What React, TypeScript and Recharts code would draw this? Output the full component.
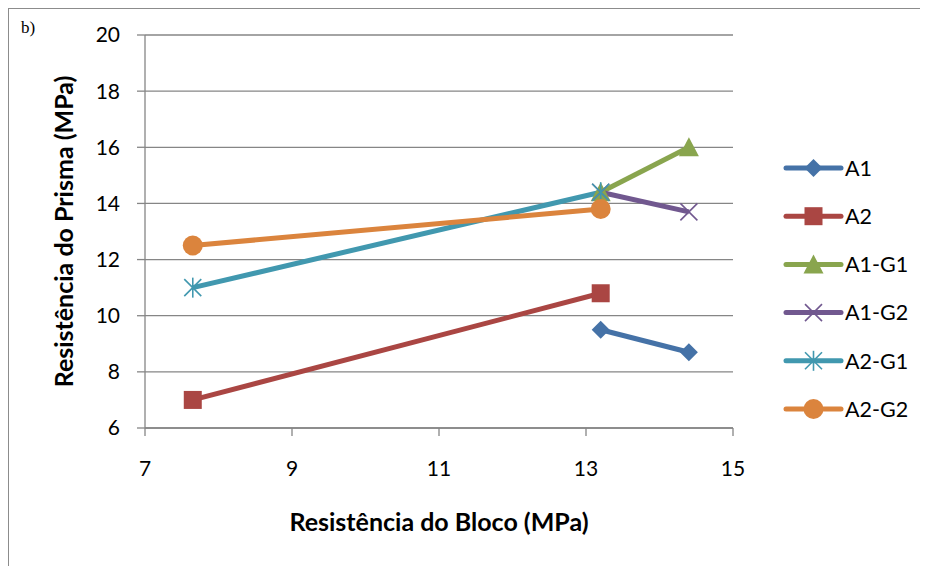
import { ComposedChart, Line, XAxis, YAxis, CartesianGrid } from 'recharts';

// Resistência do Bloco (MPa) for each series
const blocoA1 = [13.2, 14.4];
const blocoA2 = [7.65, 13.2];

// Resistência do Prisma (MPa)
const prismaA1 = [9.5, 8.7];
const prismaA2 = [7.0, 10.8];
const prismaA1G1 = [14.4, 16.0];
const prismaA1G2 = [14.4, 13.7];
const prismaA2G1 = [11.0, 14.4];
const prismaA2G2 = [12.5, 13.8];

const seriesNames = ['A1', 'A2', 'A1-G1', 'A1-G2', 'A2-G1', 'A2-G2'];
const seriesColors = ['#4572A7', '#AA4643', '#89A54E', '#71588F', '#4198AF', '#DB843D'];
const seriesShapes = ['diamond', 'square', 'triangle', 'cross', 'star', 'circle'];

const xTicks = [7, 9, 11, 13, 15];
const yTicks = [6, 8, 10, 12, 14, 16, 18, 20];

const toPoints = (xs: number[], ys: number[]) => xs.map((x, i) => ({ x, y: ys[i] }));

const series = [
  toPoints(blocoA1, prismaA1),
  toPoints(blocoA2, prismaA2),
  toPoints(blocoA1, prismaA1G1),
  toPoints(blocoA1, prismaA1G2),
  toPoints(blocoA2, prismaA2G1),
  toPoints(blocoA2, prismaA2G2),
];

const FONT = 'Lato, "Open Sans", sans-serif';
const AXIS_GREY = '#868686';

const Marker = ({ shape, cx, cy, color }: { shape: string; cx: number; cy: number; color: string }) => {
  if (cx == null || cy == null) return null;
  switch (shape) {
    case 'diamond':
      return <polygon points={`${cx},${cy - 9} ${cx + 9},${cy} ${cx},${cy + 9} ${cx - 9},${cy}`} fill={color} />;
    case 'square':
      return <rect x={cx - 9} y={cy - 9} width={18} height={18} fill={color} />;
    case 'triangle':
      return <polygon points={`${cx},${cy - 10} ${cx + 10},${cy + 9} ${cx - 10},${cy + 9}`} fill={color} />;
    case 'cross':
      return (
        <g stroke={color} strokeWidth={1.6}>
          <line x1={cx - 8.5} y1={cy - 8.5} x2={cx + 8.5} y2={cy + 8.5} />
          <line x1={cx - 8.5} y1={cy + 8.5} x2={cx + 8.5} y2={cy - 8.5} />
        </g>
      );
    case 'star':
      return (
        <g stroke={color} strokeWidth={1.6}>
          <line x1={cx - 8.5} y1={cy - 8.5} x2={cx + 8.5} y2={cy + 8.5} />
          <line x1={cx - 8.5} y1={cy + 8.5} x2={cx + 8.5} y2={cy - 8.5} />
          <line x1={cx} y1={cy - 10} x2={cx} y2={cy + 10} />
        </g>
      );
    default:
      return <circle cx={cx} cy={cy} r={10} fill={color} />;
  }
};

const LegendBox = () => (
  <svg width={156} height={285} style={{ position: 'absolute', left: 770, top: 144 }}>
    {seriesNames.map((name, i) => {
      const cy = 15 + i * 48.2;
      return (
        <g key={name}>
          <line x1={7} y1={cy} x2={62} y2={cy} stroke={seriesColors[i]} strokeWidth={5} strokeLinecap="round" />
          <Marker shape={seriesShapes[i]} cx={34.5} cy={cy} color={seriesColors[i]} />
          <text x={66} y={cy} dy="0.36em" fontSize={21.5} fontFamily={FONT} fill="#000">
            {name}
          </text>
        </g>
      );
    })}
  </svg>
);

export default function App() {
  return (
    <div
      style={{
        position: 'relative',
        width: 920,
        height: 558,
        borderLeft: '1.5px solid #8c8c8c',
        borderTop: '1.5px solid #8c8c8c',
        boxSizing: 'border-box',
        background: '#fff',
      }}
    >
      <div
        style={{
          position: 'absolute',
          left: 12,
          top: 9,
          fontFamily: '"Liberation Serif", serif',
          fontSize: 17,
        }}
      >
        b)
      </div>
      <ComposedChart
        width={918}
        height={556}
        margin={{ top: 26, right: 194, bottom: 77, left: 76 }}
      >
        <CartesianGrid horizontal vertical={false} stroke={AXIS_GREY} strokeWidth={1.3} />
        <XAxis
          dataKey="x"
          type="number"
          domain={[7, 15]}
          ticks={xTicks}
          interval={0}
          allowDuplicatedCategory={false}
          stroke={AXIS_GREY}
          strokeWidth={1.3}
          tickSize={8}
          tickMargin={25}
          height={60}
          tick={{ fill: '#000', fontSize: 21, fontFamily: FONT }}
          label={{
            content: ({ viewBox }: any) => (
              <text
                x={viewBox.x + viewBox.width / 2}
                y={viewBox.y + 103}
                textAnchor="middle"
                fontSize={25}
                fontWeight={700}
                fontFamily={FONT}
                fill="#000"
              >
                Resistência do Bloco (MPa)
              </text>
            ),
          }}
        />
        <YAxis
          dataKey="y"
          type="number"
          domain={[6, 20]}
          ticks={yTicks}
          interval={0}
          width={60}
          stroke={AXIS_GREY}
          strokeWidth={1.3}
          tickSize={8}
          tickMargin={17}
          tick={{ fill: '#000', fontSize: 21, fontFamily: FONT }}
          label={{
            content: ({ viewBox }: any) => {
              const x = viewBox.x - 12;
              const y = viewBox.y + viewBox.height / 2;
              return (
                <text
                  x={x}
                  y={y}
                  transform={`rotate(-90, ${x}, ${y})`}
                  textAnchor="middle"
                  fontSize={25}
                  fontWeight={700}
                  fontFamily={FONT}
                  fill="#000"
                >
                  Resistência do Prisma (MPa)
                </text>
              );
            },
          }}
        />
        {series.map((pts, i) => (
          <Line
            key={seriesNames[i]}
            name={seriesNames[i]}
            data={pts}
            dataKey="y"
            type="linear"
            stroke={seriesColors[i]}
            strokeWidth={5}
            isAnimationActive={false}
            dot={(p: any) => (
              <Marker key={`${i}-${p.index}`} shape={seriesShapes[i]} cx={p.cx} cy={p.cy} color={seriesColors[i]} />
            )}
            activeDot={false}
          />
        ))}
      </ComposedChart>
      <LegendBox />
    </div>
  );
}
